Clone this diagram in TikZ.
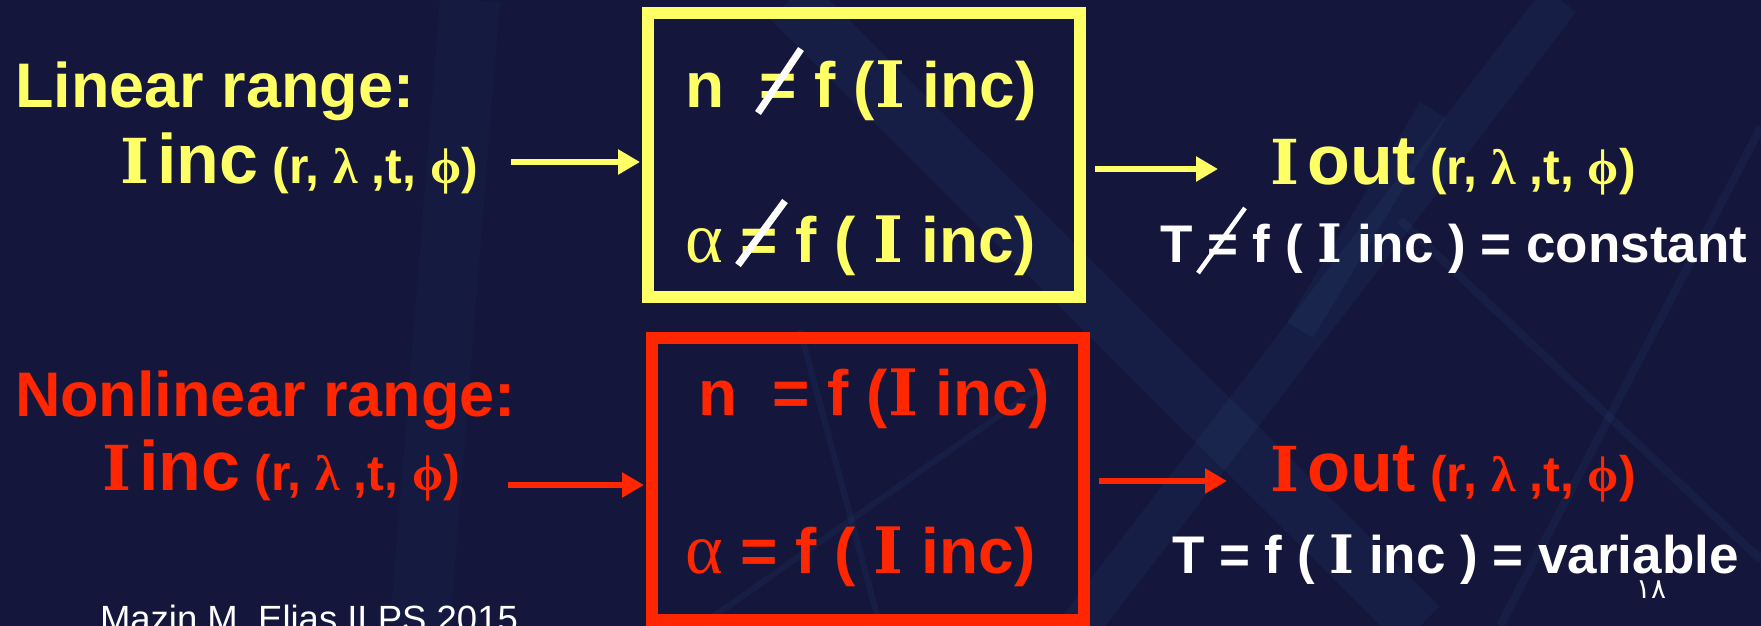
\documentclass[tikz,border=0pt]{standalone}
\usepackage{fontspec}
\setmainfont{Liberation Sans}
\newfontfamily\grfont{Liberation Serif}
\newfontfamily\slabfont{DejaVu Serif}
\newfontfamily\arabicfont[Script=Arabic]{DejaVu Sans}
\TeXXeTstate=1
\usetikzlibrary{arrows.meta,positioning}
\definecolor{slidebg}{RGB}{20,22,60}
\definecolor{streak}{RGB}{45,90,130}
\definecolor{lightyellow}{RGB}{255,255,102}
\definecolor{slidered}{RGB}{255,38,0}

\newcommand{\setfs}[1]{\fontsize{#1pt}{#1pt}\selectfont}
\newcommand{\serifI}{{\slabfont\bfseries I}}
\newcommand{\smallgap}{{\setfs{30}\ }}
\newcommand{\wavargs}{{\setfs{50} (r, {\grfont λ} ,t, {\grfont ϕ})}}

\tikzset{
  txt/.style={anchor=base west, inner sep=0pt, outer sep=0pt},
  head/.style={txt, font=\bfseries\setfs{63}},
  beam/.style={txt, font=\bfseries\setfs{70}},
  rel/.style={txt, font=\bfseries\setfs{64}},
  trans/.style={txt, white, font=\bfseries\setfs{53}},
  rangebox/.style={draw, line width=12pt, inner sep=0pt, minimum width=432pt},
  flow/.style={line width=6pt, -{Triangle[length=22pt,width=24pt]}},
  neqslash/.style={white, line width=7pt},
  streakband/.style={streak, opacity=0.13}
}

\begin{document}
\begin{tikzpicture}[x=1pt, y=-1pt]
    \useasboundingbox (0,0) rectangle (1761,626);
    \fill[slidebg] (0,0) rectangle (1761,626);

    % --- background streaks ---
    \begin{scope}[streakband]
        \draw[line width=55pt] (790,0) -- (1420,626);
        \draw[line width=40pt] (1080,626) -- (1560,0);
        \draw[line width=30pt] (1300,330) -- (1433,110);
        \draw[line width=8pt] (1400,220) -- (1761,560);
        \draw[line width=8pt] (1761,127) -- (1500,626);
        \draw[line width=60pt, opacity=0.07] (470,0) -- (420,626);
        \draw[line width=6pt] (800,330) -- (880,626);
        \draw[line width=6pt] (700,626) -- (1050,380);
    \end{scope}

    % --- Linear range ---
    \node[head, lightyellow] (linhead) at (15,107) {Linear range:};
    \node[beam, lightyellow] (lininc) at (120,183) {{\setfs{62}\serifI}\smallgap inc\wavargs};
    \node[rangebox, draw=lightyellow, minimum height=284pt] (ybox) at (864,155) {};
    \node[rel, lightyellow] (yn) at (685,107) {n\ \ = f (\serifI\ inc)};
    \node[rel, lightyellow] (ya) at (685,262) {{\grfont\mdseries\setfs{72}α} = f ( \serifI\ inc)};
    \draw[neqslash] (758,113) -- (801,49);
    \draw[neqslash] (738,265) -- (785,201);
    \node[beam, lightyellow] (linout) at (1270,184) {{\setfs{62}\serifI}\smallgap out\wavargs};
    \node[trans] (tconst) at (1160,262) {T = f ( \serifI\ inc ) = constant};
    \draw[neqslash, line width=4.5pt] (1198,273) -- (1245,208);

    \coordinate (yintail) at (511,162);
    \coordinate (youthead) at (1218,169);
    \draw[flow, lightyellow, shorten >=2pt] (yintail) -- (yintail -| ybox.west);
    \draw[flow, lightyellow, shorten <=9pt] (youthead -| ybox.east) -- (youthead);

    % --- Nonlinear range ---
    \node[head, slidered] (nlhead) at (15,416) {Nonlinear range:};
    \node[beam, slidered] (nlinc) at (102,490) {{\setfs{62}\serifI}\smallgap inc\wavargs};
    \node[rangebox, draw=slidered, minimum height=282pt] (rbox) at (868,479) {};
    \node[rel, slidered] (rn) at (698,415) {n\ \ = f (\serifI\ inc)};
    \node[rel, slidered] (ra) at (685,573) {{\grfont\mdseries\setfs{72}α} = f ( \serifI\ inc)};
    \node[beam, slidered] (nlout) at (1270,491) {{\setfs{62}\serifI}\smallgap out\wavargs};
    \node[trans] (tvar) at (1172,573) {T = f ( \serifI\ inc ) = variable};

    \coordinate (rintail) at (508,485);
    \coordinate (routhead) at (1227,481);
    \draw[flow, slidered, shorten >=2pt] (rintail) -- (rintail -| rbox.west);
    \draw[flow, slidered, shorten <=9pt] (routhead -| rbox.east) -- (routhead);

    % footer
    \node[txt, white, font=\setfs{36.5}] (credit) at (100,631) {Mazin M. Elias ILPS 2015};
    \node[white, inner sep=0pt, font=\arabicfont\setfs{28}] (pagenum) at (1651,590) {\beginR ١٨\endR};
\end{tikzpicture}
\end{document}
